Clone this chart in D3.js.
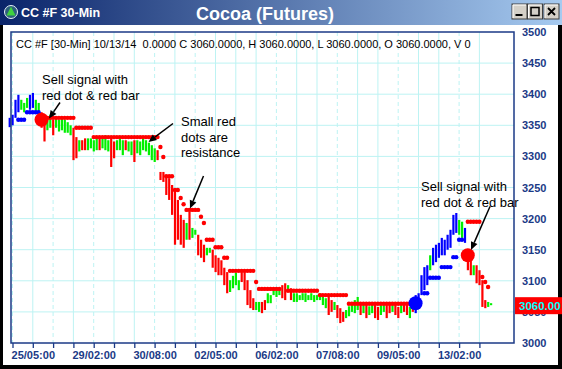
<!DOCTYPE html>
<html><head><meta charset="utf-8">
<script src="https://cdn.jsdelivr.net/npm/d3@7"></script>
<style>
body{margin:0;background:#000;}
svg{display:block;}
text{font-family:Arial,"Liberation Sans",sans-serif;}
</style>
</head><body>
<svg id="c" width="562" height="369"></svg>
<script>
// ---------------- DATA ----------------
const highs = [
3362,3367,3391,3399,3391,3386,3394,3399,3402,3391,
3386,3371,3362,3362,3367,3359,3363,3359,3362,3359,
3355,3350,3346,3331,3326,3326,3329,3329,3329,3326,
3331,3329,3331,3334,3326,3329,3324,3326,3329,3326,
3326,3324,3324,3326,3326,3324,3329,3326,3322,3318,
3313,3310,3275,3275,3270,3265,3254,3246,3230,3206,
3198,3193,3211,3185,3182,3174,3166,3158,3153,3153,
3150,3141,3137,3133,3121,3114,3101,3108,3113,3101,
3114,3114,3101,3085,3072,3066,3066,3066,3069,3080,
3077,3088,3085,3085,3093,3096,3093,3088,3080,3080,
3077,3080,3080,3077,3080,3077,3077,3080,3074,3072,
3074,3069,3066,3061,3056,3050,3053,3059,3064,3069,
3074,3061,3064,3061,3059,3064,3061,3058,3061,3064,
3061,3064,3061,3064,3058,3061,3061,3061,3058,3061,
3077,3080,3109,3122,3125,3141,3153,3158,3161,3169,
3166,3174,3182,3206,3209,3198,3195,3185,3150,3141,
3125,3125,3117,3101,3069,3066,3064];
const lows = [
3347,3350,3362,3371,3375,3371,3378,3375,3378,3371,
3367,3346,3324,3342,3346,3334,3346,3340,3342,3338,
3338,3334,3294,3297,3308,3310,3310,3310,3313,3308,
3310,3310,3313,3310,3308,3283,3297,3310,3310,3302,
3310,3308,3302,3291,3305,3302,3310,3308,3302,3294,
3291,3294,3262,3259,3238,3230,3206,3158,3166,3158,
3153,3166,3166,3169,3174,3141,3137,3130,3141,3145,
3121,3114,3109,3109,3093,3080,3082,3088,3093,3085,
3098,3085,3061,3056,3053,3053,3050,3048,3053,3064,
3064,3077,3074,3077,3072,3069,3082,3069,3066,3066,
3069,3069,3066,3069,3069,3066,3069,3069,3061,3056,
3045,3050,3053,3040,3032,3034,3040,3043,3050,3048,
3053,3045,3048,3040,3045,3048,3040,3037,3045,3050,
3040,3048,3050,3045,3040,3048,3050,3045,3040,3050,
3048,3056,3077,3085,3093,3117,3125,3130,3137,3141,
3141,3150,3153,3174,3177,3174,3169,3161,3117,3109,
3109,3096,3093,3058,3056,3058,3061];
// bar colour codes: b = blue, g = green, r = red
const barColors =
  "bbbbgggbbg" + "grrggrgggg" + "ggrrgrrggg" + "grgggrrggg" + "rggrgggggg" +
  "grrrrrrrrr" + "rgrggrrrgg" + "rrrrrrgggg" + "rrrrrggrrg" + "ggggrrgrgg" +
  "gggggggggg" + "rrgrrrgggg" + "grgrggrrgg" + "rrgrrgrrgr" + "bbbbbgbbbb" +
  "bbbbbggbrr" + "grrrrgg";
// trailing stop values (null = none)
const stops = [
null,null,null,3359,3359,3359,3371,3371,3371,3371,
3371,null,null,3362,3362,3362,3362,3362,3362,3362,
3362,3362,3362,3346,3346,3346,3346,3346,3346,3331,
3331,3331,3331,3331,3331,3331,3331,3331,3331,3331,
3331,3331,3331,3331,3331,3331,3331,3331,3331,3331,
3331,3331,3315,3299,3268,3268,3268,3246,3246,3233,
3223,3214,3214,3214,3214,3214,3203,3193,3166,3166,
3166,3154,3154,3154,3137,3137,3116,3116,3116,3116,
3116,3116,3116,3116,3116,3098,3087,3087,3087,3087,
3087,3087,3087,3087,null,null,3084,3084,3084,3084,
3084,3084,3084,3084,3084,3084,3084,3077,3077,3077,
3077,3077,3077,3077,3077,3077,3077,3063,3063,3063,
3063,3063,3063,3063,3063,3063,3063,3063,3063,3063,
3063,3063,3063,3063,3063,3063,3063,3063,3063,3063,
null,null,null,3080,3080,3105,3105,3105,3105,3122,
3122,3122,3122,3138,3138,3166,3166,null,3195,3195,
3195,3195,3195,3106,3098,3090,null];
const stopColors =
  "bbbbbbbbbbb" + "r".repeat(129) + "b".repeat(18) + "r".repeat(9);
// big signal dots: bar index, price, colour
const signalIdx = [11, 140, 158];
const signalPrice = [3359, 3064, 3141];
const signalColor = ["r", "b", "r"];

const yTicks = [3000,3050,3100,3150,3200,3250,3300,3350,3400,3450,3500];
const xTickLabels = ["25/05:00","29/02:00","30/08:00","02/05:00","06/02:00","07/08:00","09/05:00","13/02:00"];
const barsPerTick = 7, firstTickBar = 1, tickCount = 24;
const dashedTicks = [0,2,4,7,9,13,16,19,22];
const lastClose = 3060;
const headerText = "CC #F [30-Min] 10/13/14  0.0000 C 3060.0000, H 3060.0000, L 3060.0000, O 3060.0000, V 0";

// ---------------- DRAW ----------------
const W = 562, H = 369;
const PL = 11, PR = 514, PT = 32, PB = 343;
const COL = {r:"#ff0000", g:"#00f000", b:"#0000ff"};
const AXC = "#1b3a86";
const GRID = "#bdf3f3";

const svg = d3.select("#c");
const defs = svg.append("defs");
const lg = defs.append("linearGradient").attr("id","tb");
lg.append("stop").attr("offset","0%").attr("stop-color","#0a246a");
lg.append("stop").attr("offset","100%").attr("stop-color","#a6caf0");

svg.append("rect").attr("width",W).attr("height",H).attr("fill","#000");
svg.append("rect").attr("x",3).attr("y",25).attr("width",555).attr("height",340).attr("fill","#fff");
svg.append("rect").attr("x",0).attr("y",0).attr("width",W).attr("height",25).attr("fill","url(#tb)");

// title bar
svg.append("circle").attr("cx",11).attr("cy",12).attr("r",6.5).attr("fill","#2d5f7c").attr("stroke","#e8f0f8").attr("stroke-width",1);
svg.append("path").attr("d","M11,6.5 L6.5,15.5 L15.5,15.5 Z").attr("fill","#3fd23f");
svg.append("text").attr("x",21).attr("y",17).attr("fill","#fff")
  .style("font-family","'Liberation Sans Narrow',Arial,sans-serif").style("font-weight","bold").style("font-size","12.5px")
  .text("CC #F 30-Min");
svg.append("text").attr("x",265).attr("y",19.5).attr("text-anchor","middle").attr("fill","#fff")
  .style("font-weight","bold").style("font-size","18px").text("Cocoa (Futures)");
const btns = [512, 527.5, 544];
btns.forEach((bx,k)=>{
  svg.append("rect").attr("x",bx).attr("y",4).attr("width",15).attr("height",15).attr("fill","#d4d0c8")
    .attr("stroke","#404040").attr("stroke-width",1);
  svg.append("path").attr("d",`M${bx+1},${18} L${bx+1},${5} L${bx+14},${5}`).attr("fill","none").attr("stroke","#fff");
});
svg.append("rect").attr("x",515.5).attr("y",14).attr("width",7).attr("height",2).attr("fill","#000");
svg.append("rect").attr("x",531).attr("y",7.5).attr("width",8).attr("height",8).attr("fill","none").attr("stroke","#000").attr("stroke-width",1.5);
svg.append("path").attr("d","M548,8 L555,15 M555,8 L548,15").attr("stroke","#000").attr("stroke-width",1.8);

// scales
const N = highs.length;
const x = d3.scaleLinear().domain([0, N-1]).range([9.6, 491]);
const y = d3.scaleLinear().domain([3000, 3500]).range([PB, PT]);

// grid
const tickBars = d3.range(tickCount).map(k => firstTickBar + k*barsPerTick);
const g = svg.append("g");
g.selectAll("line.h").data(yTicks.slice(1,-1)).join("line")
  .attr("x1",PL).attr("x2",PR).attr("y1",d=>y(d)).attr("y2",d=>y(d))
  .attr("stroke",GRID).attr("stroke-width",1);
g.selectAll("line.v").data(tickBars).join("line")
  .attr("x1",d=>x(d)).attr("x2",d=>x(d)).attr("y1",PT).attr("y2",PB)
  .attr("stroke",GRID).attr("stroke-width",1)
  .attr("stroke-dasharray",(d,k)=>dashedTicks.includes(k)?"4,3":null);

// header
svg.append("text").attr("x",16).attr("y",48).attr("fill","#000").style("font-size","11px")
  .style("white-space","pre").attr("xml:space","preserve").text(headerText);

// bars
const bars = d3.range(N);
svg.append("g").selectAll("rect").data(bars).join("rect")
  .attr("x",i=>x(i)-1).attr("width",2.2)
  .attr("y",i=>y(highs[i]))
  .attr("height",i=>Math.max(2, y(lows[i])-y(highs[i])))
  .attr("fill",i=>COL[barColors[i]]);

// stops
svg.append("g").selectAll("circle").data(bars.filter(i=>stops[i]!==null)).join("circle")
  .attr("cx",i=>x(i)).attr("cy",i=>y(stops[i])).attr("r",2.2)
  .attr("fill",i=>COL[stopColors[i]]);

// signals
svg.append("g").selectAll("circle").data(signalIdx).join("circle")
  .attr("cx",d=>x(d)).attr("cy",(d,k)=>y(signalPrice[k])).attr("r",7)
  .attr("fill",(d,k)=>COL[signalColor[k]]);

// frame
svg.append("rect").attr("x",PL).attr("y",PT).attr("width",PR-PL).attr("height",PB-PT)
  .attr("fill","none").attr("stroke",AXC).attr("stroke-width",1.5);

// bottom axis
const xAxis = d3.axisBottom(x).tickValues(tickBars).tickSize(5).tickPadding(3)
  .tickFormat((d,k)=> (k%3===1) ? xTickLabels[(k-1)/3] : "");
const xa = svg.append("g").attr("transform",`translate(0,${PB})`).call(xAxis);
xa.select(".domain").remove();
xa.selectAll("line").attr("stroke",AXC).attr("stroke-width",1.3);
xa.selectAll("text").attr("fill",AXC).style("font-size","11px").style("font-weight","bold")
  .style("font-family","Arial,'Liberation Sans',sans-serif");

// right axis
const yAxis = d3.axisRight(y).tickValues(yTicks).tickSize(0).tickPadding(0).tickFormat(d3.format("d"));
const ya = svg.append("g").attr("transform",`translate(522,0)`).call(yAxis);
ya.select(".domain").remove();
ya.selectAll("text").attr("fill",AXC).style("font-size","11px").style("font-weight","bold")
  .style("font-family","Arial,'Liberation Sans',sans-serif");

// last price tag (drawn over the 3050 label, as in the reference)
svg.append("rect").attr("x",515).attr("y",y(lastClose)-8.5).attr("width",47).attr("height",17).attr("fill","#ff0000");
svg.append("text").attr("x",519).attr("y",y(lastClose)+4).attr("fill","#00ffff")
  .style("font-size","11.5px").style("font-weight","bold").text(lastClose.toFixed(2));

// annotations
function arrow(x1,y1,x2,y2){
  const a = Math.atan2(y2-y1,x2-x1), L=8, Wd=3.5;
  const bx = x2 - L*Math.cos(a), by = y2 - L*Math.sin(a);
  svg.append("line").attr("x1",x1).attr("y1",y1).attr("x2",bx).attr("y2",by).attr("stroke","#000").attr("stroke-width",1.5);
  svg.append("path").attr("d",`M${x2},${y2} L${bx - Wd*Math.sin(a)},${by + Wd*Math.cos(a)} L${bx + Wd*Math.sin(a)},${by - Wd*Math.cos(a)} Z`).attr("fill","#000");
}
function label(lines, x0, y0, lh){
  const t = svg.append("text").attr("x",x0).attr("y",y0).attr("fill","#000").style("font-size","13px");
  lines.forEach((s,k)=> t.append("tspan").attr("x",x0).attr("y",y0+k*lh).text(s));
}
label(["Sell signal with","red dot & red bar"], 42, 84, 16);
label(["Small red","dots are","resistance"], 181, 126, 15.5);
label(["Sell signal with","red dot & red bar"], 421, 191, 16);
arrow(60,102.5,49,118.5);
arrow(173,123.5,148.5,142);
arrow(203.5,176,190,208.5);
arrow(490,206.5,471,250);
</script>
</body></html>
